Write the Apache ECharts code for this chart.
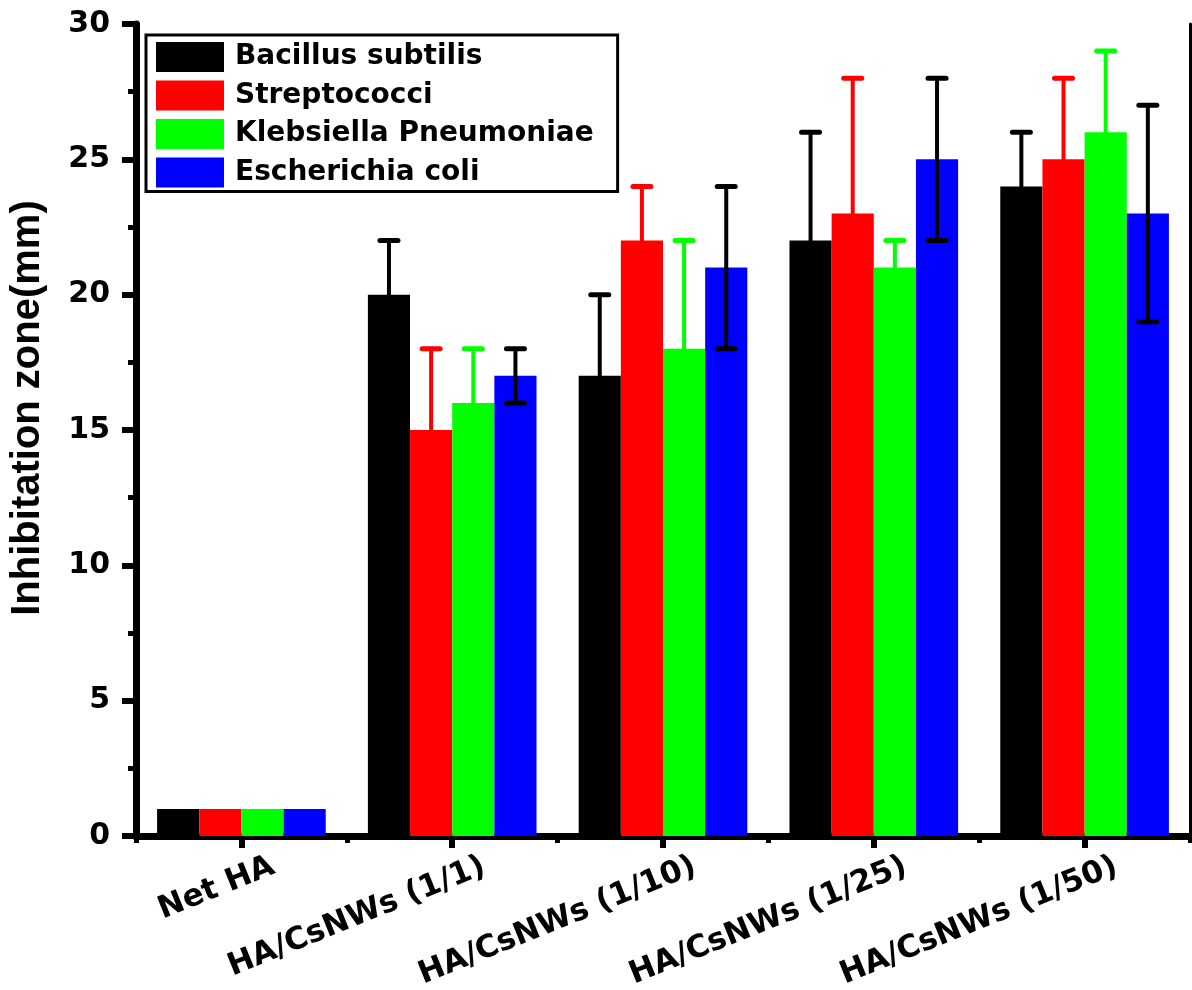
<!DOCTYPE html>
<html>
<head>
<meta charset="utf-8">
<script src="https://cdn.jsdelivr.net/npm/echarts@6/dist/echarts.min.js"></script>
<style>
html,body{margin:0;padding:0;background:#fff;}
#chart{width:1192px;height:990px;}
</style>
</head>
<body>
<div id="chart"></div>
<script>
// ---- data ----
const categories = ['Net HA', 'HA/CsNWs (1/1)', 'HA/CsNWs (1/10)', 'HA/CsNWs (1/25)', 'HA/CsNWs (1/50)'];
const seriesNames = ['Bacillus subtilis', 'Streptococci', 'Klebsiella Pneumoniae', 'Escherichia coli'];
const bacillus = [1, 20, 17, 22, 24];
const bacillusErr = [0, 2, 3, 4, 2];
const strepto = [1, 15, 22, 23, 25];
const streptoErr = [0, 3, 2, 5, 3];
const klebsiella = [1, 16, 18, 21, 26];
const klebsiellaErr = [0, 2, 4, 1, 3];
const ecoli = [1, 17, 21, 25, 23];
const ecoliErr = [0, 1, 3, 3, 4];
const yAxisTitle = 'Inhibitation zone(mm)';
const yMin = 0, yMax = 30, yStep = 5;

const barColors = ['#000000', '#ff0000', '#00ff00', '#0000ff'];
const errColors = ['#000000', '#ff0000', '#00ff00', '#000000'];
const values = [bacillus, strepto, klebsiella, ecoli];
const errs = [bacillusErr, streptoErr, klebsiellaErr, ecoliErr];

const FONT = 'DejaVu Sans';
const GRID = {left: 136, width: 1054, top: 24, bottom: 154, outerBoundsMode: 'none', containLabel: false};

function errRenderer(sIdx, color) {
  return function (params, api) {
    const cat = api.value(0), v = api.value(1), e = api.value(2);
    if (!e) return null;
    const band = api.size([1, 0])[0];
    const bw = band * 0.8 / 4;
    const c = api.coord([cat, v]);
    const x = c[0] + (sIdx - 1.5) * bw;
    const yHi = api.coord([cat, v + e])[1];
    const yLo = api.coord([cat, v - e])[1];
    const half = 9;
    return {
      type: 'group',
      children: [
        {type: 'line', shape: {x1: x, y1: yHi, x2: x, y2: yLo}, style: {stroke: color, lineWidth: 4}},
        {type: 'line', shape: {x1: x - half, y1: yHi, x2: x + half, y2: yHi}, style: {stroke: color, lineWidth: 5, lineCap: 'round'}},
        {type: 'line', shape: {x1: x - half, y1: yLo, x2: x + half, y2: yLo}, style: {stroke: color, lineWidth: 5, lineCap: 'round'}}
      ]
    };
  };
}

const series = [];
seriesNames.forEach((name, i) => {
  series.push({
    name: name,
    type: 'bar',
    xAxisIndex: 0, yAxisIndex: 0,
    data: values[i],
    barGap: '0%',
    barCategoryGap: '20%',
    itemStyle: {color: barColors[i]},
    z: 2
  });
});
seriesNames.forEach((name, i) => {
  series.push({
    name: name + ' error',
    type: 'custom',
    xAxisIndex: 0, yAxisIndex: 0,
    renderItem: errRenderer(i, errColors[i]),
    data: values[i].map((v, k) => [k, v, errs[i][k]]),
    encode: {x: 0, y: 1},
    z: 5
  });
});

const chart = echarts.init(document.getElementById('chart'), null, {renderer: 'canvas'});
chart.setOption({
  animation: false,
  backgroundColor: '#ffffff',
  grid: [
    Object.assign({}, GRID),
    Object.assign({}, GRID),
    Object.assign({}, GRID, {left: GRID.left + 26})
  ],
  legend: {
    data: seriesNames,
    orient: 'vertical',
    left: 146, top: 35,
    padding: [7, 24, 4, 10],
    itemWidth: 68, itemHeight: 30, itemGap: 8.5,
    icon: 'rect',
    backgroundColor: '#ffffff',
    borderColor: '#000000',
    borderWidth: 3,
    borderRadius: 0,
    selectedMode: false,
    textStyle: {fontFamily: FONT, fontWeight: 'bold', fontSize: 28, color: '#000', padding: [0, 0, 0, 6]}
  },
  xAxis: [
    { // main bottom axis: ticks at category centres
      type: 'category', gridIndex: 0, position: 'bottom', data: categories,
      axisLine: {show: true, lineStyle: {color: '#000', width: 7}},
      axisTick: {show: true, alignWithLabel: true, length: 12, lineStyle: {color: '#000', width: 6}},
      axisLabel: {show: false}, splitLine: {show: false}
    },
    { // top frame line
      type: 'category', gridIndex: 0, position: 'top', data: categories,
      axisLine: {show: true, lineStyle: {color: '#000', width: 7}},
      axisTick: {show: false}, axisLabel: {show: false}, splitLine: {show: false}
    },
    { // boundary (minor) ticks
      type: 'category', gridIndex: 1, position: 'bottom', data: categories,
      axisLine: {show: false},
      axisTick: {show: true, alignWithLabel: false, length: 7, lineStyle: {color: '#000', width: 5}},
      axisLabel: {show: false}, splitLine: {show: false}
    },
    { // rotated category labels
      type: 'category', gridIndex: 2, position: 'bottom', data: categories,
      axisLine: {show: false}, axisTick: {show: false}, splitLine: {show: false},
      axisLabel: {
        show: true, interval: 0, rotate: 22, margin: 15,
        align: 'right', verticalAlign: 'top',
        fontFamily: FONT, fontWeight: 'bold', fontSize: 31, color: '#000'
      }
    }
  ],
  yAxis: [
    {
      type: 'value', gridIndex: 0, position: 'left', min: yMin, max: yMax, interval: yStep,
      axisLine: {show: true, lineStyle: {color: '#000', width: 7}},
      axisTick: {show: true, length: 14, lineStyle: {color: '#000', width: 6}},
      minorTick: {show: true, splitNumber: 2, length: 8, lineStyle: {color: '#000', width: 5}},
      axisLabel: {margin: 26, fontFamily: FONT, fontWeight: 'bold', fontSize: 30, color: '#000'},
      splitLine: {show: false}
    },
    {
      type: 'value', gridIndex: 0, position: 'right', min: yMin, max: yMax, interval: yStep,
      axisLine: {show: true, lineStyle: {color: '#000', width: 3}},
      axisTick: {show: false}, axisLabel: {show: false}, splitLine: {show: false}
    },
    {type: 'value', gridIndex: 1, min: yMin, max: yMax, show: false},
    {type: 'value', gridIndex: 2, min: yMin, max: yMax, show: false}
  ],
  graphic: [
    {
      type: 'text', x: 28, y: 408, rotation: Math.PI / 2,
      style: {
        text: yAxisTitle, fill: '#000',
        font: 'bold 40px "Liberation Sans", Arial, sans-serif',
        align: 'center', verticalAlign: 'middle',
        textAlign: 'center', textVerticalAlign: 'middle'
      }
    }
  ],
  series: series
});
</script>
</body>
</html>
